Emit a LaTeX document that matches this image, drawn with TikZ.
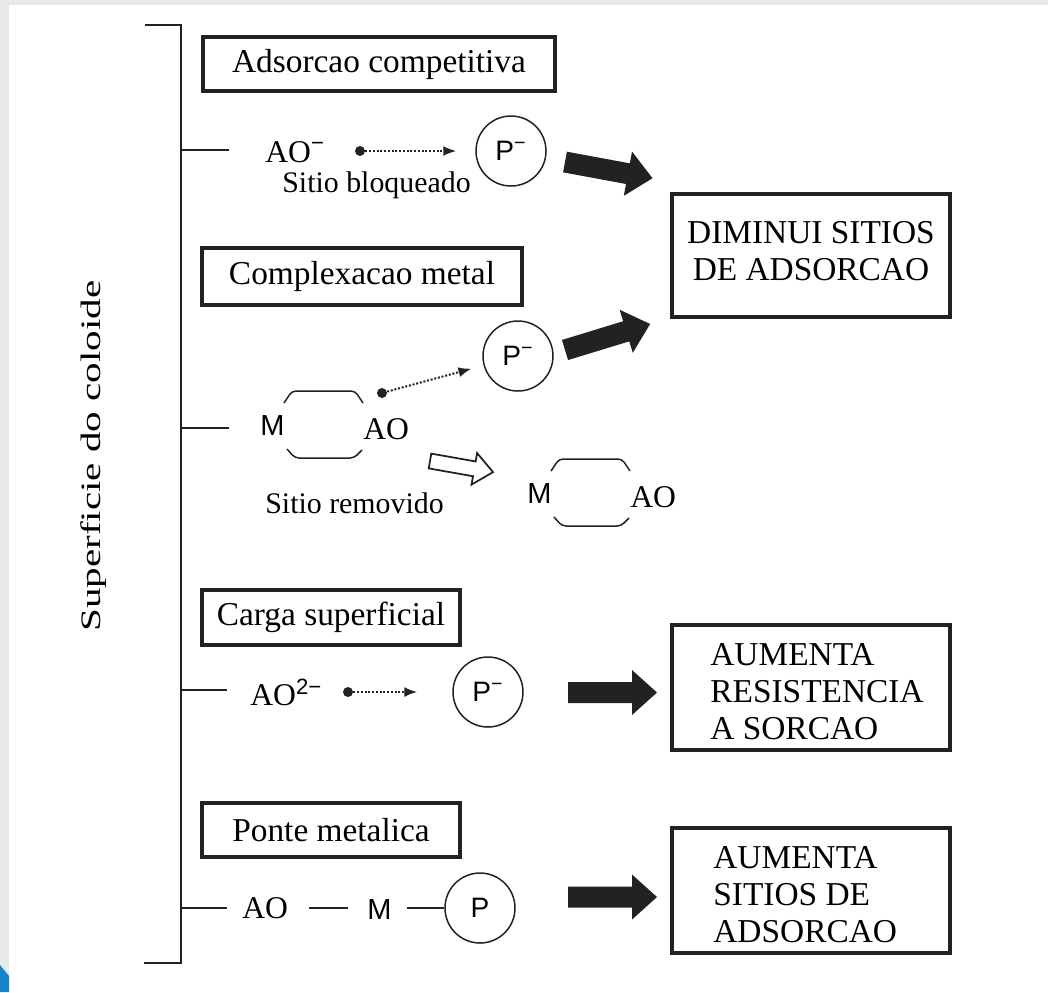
\documentclass[tikz,border=0pt]{standalone}
\usepackage{fontspec}
\setmainfont{Liberation Serif}
\newfontfamily\sansf{Liberation Sans}
\usetikzlibrary{arrows.meta,calc}

\definecolor{pagegray}{RGB}{232,232,232}
\definecolor{cornerblue}{RGB}{22,132,200}
\definecolor{ink}{RGB}{34,34,34}

\tikzset{
  title box/.style={draw=ink, line width=0.08cm, inner sep=0pt,
    font=\fontsize{19}{21}\selectfont},
  result box/.style={draw=ink, line width=0.08cm, inner sep=0pt,
    minimum width=5.56cm},
  result text/.style={font=\fontsize{19}{21}\selectfont, inner sep=0pt},
  ion/.style={circle, draw=ink, line width=0.03cm, minimum size=1.4cm,
    inner sep=0pt, font=\sansf\fontsize{16}{16}\selectfont},
  dotnode/.style={circle, fill=ink, minimum size=0.2cm, inner sep=0pt},
  link/.style={densely dotted, line width=0.04cm, draw=ink,
    -{Latex[length=0.26cm,width=0.2cm]}},
  bracket/.style={draw=ink, line width=0.04cm},
  bond/.style={draw=ink, line width=0.03cm},
  chem/.style={font=\fontsize{18}{18}\selectfont, inner sep=0pt, anchor=base west},
  metal/.style={font=\sansf\fontsize{16.5}{16.5}\selectfont, inner sep=0pt, anchor=base west},
  note/.style={font=\fontsize{17}{17}\selectfont, inner sep=0pt, anchor=base west},
  bigarrow/.pic={
    \fill[ink] (0,-10.5) -- (64,-10.5) -- (64,-22.5) -- (89,0)
      -- (64,22.5) -- (64,10.5) -- (0,10.5) -- cycle;
  },
  hollowarrow/.pic={
    \draw[ink, line width=0.035cm, fill=white] (0,-7.5) -- (45,-7.5) -- (45,-16)
      -- (64,0) -- (45,16) -- (45,7.5) -- (0,7.5) -- cycle;
  },
  ring/.pic={
    \node[metal] (-m) at (0,0) {M};
    \node[chem] (-ao) at (103,4) {AO};
    \draw[bond, rounded corners=0.08cm] (24,-32) -- (32,-44) -- (95,-44) -- (103,-32);
    \draw[bond, rounded corners=0.08cm] (27,14) -- (35,23) -- (94,23) -- (102,15);
  },
}

\begin{document}
\begin{tikzpicture}[x=0.02cm, y=-0.02cm]
  % page
  \useasboundingbox (0,0) rectangle (1048,992);
  \fill[pagegray] (0,0) rectangle (1048,992);
  \fill[white] (9,5) rectangle (1048,992);
  \fill[cornerblue] (0,965) -- (9,976) -- (9,992) -- (0,992) -- cycle;

  % surface bracket
  \coordinate (btop) at (181,25);
  \coordinate (bbot) at (181,963);
  \draw[bracket] (145,25) -- (btop) -- (bbot) -- (144,963);
  \coordinate (t1) at (181,150);
  \coordinate (t2) at (181,428);
  \coordinate (t3) at (181,690);
  \coordinate (t4) at (181,908);
  \draw[bracket] (t1) -- ++(48,0);
  \draw[bracket] (t2) -- ++(48,0);
  \draw[bracket] (t3) -- ++(46,0);
  \draw[bracket] (t4) -- ++(46,0);

  \node[rotate=90, inner sep=0pt, font=\fontsize{16}{16}\selectfont] (side) at (94,456)
    {\scalebox{1.46}[1]{Superficie do coloide}};

  % mechanism titles
  \node[title box, minimum width=7.04cm, minimum height=1.08cm] (b1) at (379,64) {Adsorcao competitiva};
  \node[title box, minimum width=6.4cm, minimum height=1.14cm] (b2) at (362,276.5) {Complexacao metal};
  \node[title box, minimum width=5.16cm, minimum height=1.1cm] (b3) at (331,617.5) {Carga superficial};
  \node[title box, minimum width=5.16cm, minimum height=1.08cm] (b4) at (331,830) {Ponte metalica};

  % results
  \node[result box, minimum height=2.46cm] (r1) at (811,255.5) {};
  \node[result text, align=center] (r1t) at (811,251) {DIMINUI SITIOS\\DE ADSORCAO};
  \node[result box, minimum height=2.5cm] (r2) at (811,687.5) {};
  \node[result text, align=left, anchor=west] (r2t) at ($(r2.west)+(40,4)$) {AUMENTA\\RESISTENCIA\\A SORCAO};
  \node[result box, minimum height=2.5cm] (r3) at (811,890.5) {};
  \node[result text, align=left, anchor=west] (r3t) at ($(r3.west)+(43,4.5)$) {AUMENTA\\SITIOS DE\\ADSORCAO};

  % competitive adsorption
  \node[chem] (ao1) at (265,162) {AO\textsuperscript{\sansf −}};
  \node[note] (s1) at (282,192) {Sitio bloqueado};
  \node[dotnode] (d1) at (360,151) {};
  \node[ion] (p1) at (511,151) {P\textsuperscript{−}};
  \draw[link, shorten >=0.38cm] (d1) -- (p1);
  \pic[rotate=-10.5] at (565,162) {bigarrow};

  % metal complexation
  \pic (c1) at (260,435) {ring};
  \node[dotnode] (d2) at (382,393) {};
  \node[ion] (p2) at (518,356) {P\textsuperscript{−}};
  \draw[link, shorten >=0.25cm] (d2) -- (p2);
  \pic[rotate=17] at (565,350) {bigarrow};
  \pic[rotate=-10] at (430,461) {hollowarrow};
  \node[note] (s2) at (265,513) {Sitio removido};
  \pic (c2) at (527,503) {ring};

  % surface charge
  \node[chem] (ao3) at (250,705) {AO\textsuperscript{\sansf 2−}};
  \node[dotnode] (d3) at (348,692) {};
  \node[ion] (p3) at (488,692) {P\textsuperscript{−}};
  \draw[link, shorten >=0.7cm] (d3) -- (p3);
  \pic at (568,692.5) {bigarrow};

  % metal bridge
  \node[chem] (ao4) at (242,918) {AO};
  \node[metal] (m4) at (367,919) {M};
  \node[ion] (p4) at (480,908) {P};
  \draw[bond] ($(ao4.east |- p4.west)+(21,0)$) -- ($(m4.west |- p4.west)+(-19,0)$);
  \draw[bond] ($(m4.east |- p4.west)+(15,0)$) -- (p4.west);
  \pic at (568,897) {bigarrow};
\end{tikzpicture}
\end{document}
